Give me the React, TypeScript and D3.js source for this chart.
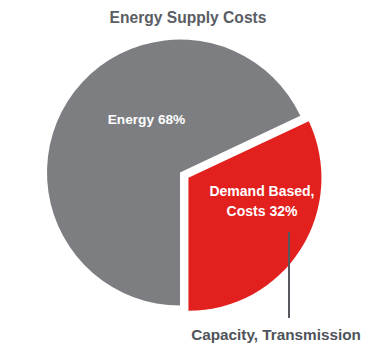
import React from "react";
import * as d3 from "d3";

const categories = ["Energy", "Demand Based"];
const values = [68, 32];
const colors = ["#7d7e82", "#e2211f"];
const title = "Energy Supply Costs";

export default function App() {
  const W = 377, H = 354;
  const cx = 180, cy = 172.5, r = 133;
  const explode = 10;
  const pie = d3.pie<number>().sort(null).startAngle(Math.PI).endAngle(3 * Math.PI);
  const arcs = pie(values);
  const arcGen = d3.arc<d3.PieArcDatum<number>>().innerRadius(0).outerRadius(r);
  const font = "'Liberation Sans', Arial, sans-serif";
  return (
    <svg width={W} height={H} style={{ position: "absolute", left: 0, top: 0 }}>
      <rect width={W} height={H} fill="#fff" />
      <text x={188} y={23} textAnchor="middle" fontFamily={font} fontWeight="bold" fontSize={15.6} fill="#595d64">{title}</text>
      {arcs.map((a, i) => {
        const mid = (a.startAngle + a.endAngle) / 2;
        const off = i === 1 ? explode : 0;
        const dx = Math.sin(mid) * off, dy = -Math.cos(mid) * off;
        return (
          <path key={categories[i]} d={arcGen(a) || ""} transform={`translate(${cx + dx},${cy + dy})`} fill={colors[i]} />
        );
      })}
      <text x={146.5} y={124} textAnchor="middle" fontFamily={font} fontWeight="bold" fontSize={13.7} fill="#fff">{`${categories[0]} ${values[0]}%`}</text>
      <text x={262} y={196} textAnchor="middle" fontFamily={font} fontWeight="bold" fontSize={14} fill="#fff">{`${categories[1]},`}</text>
      <text x={262} y={216} textAnchor="middle" fontFamily={font} fontWeight="bold" fontSize={14} fill="#fff">{`Costs ${values[1]}%`}</text>
      <line x1={289} x2={289} y1={232} y2={318} stroke="#55585d" strokeWidth={2} />
      <text x={276} y={340} textAnchor="middle" fontFamily={font} fontWeight="bold" fontSize={15.3} fill="#4f535b">Capacity, Transmission</text>
    </svg>
  );
}
